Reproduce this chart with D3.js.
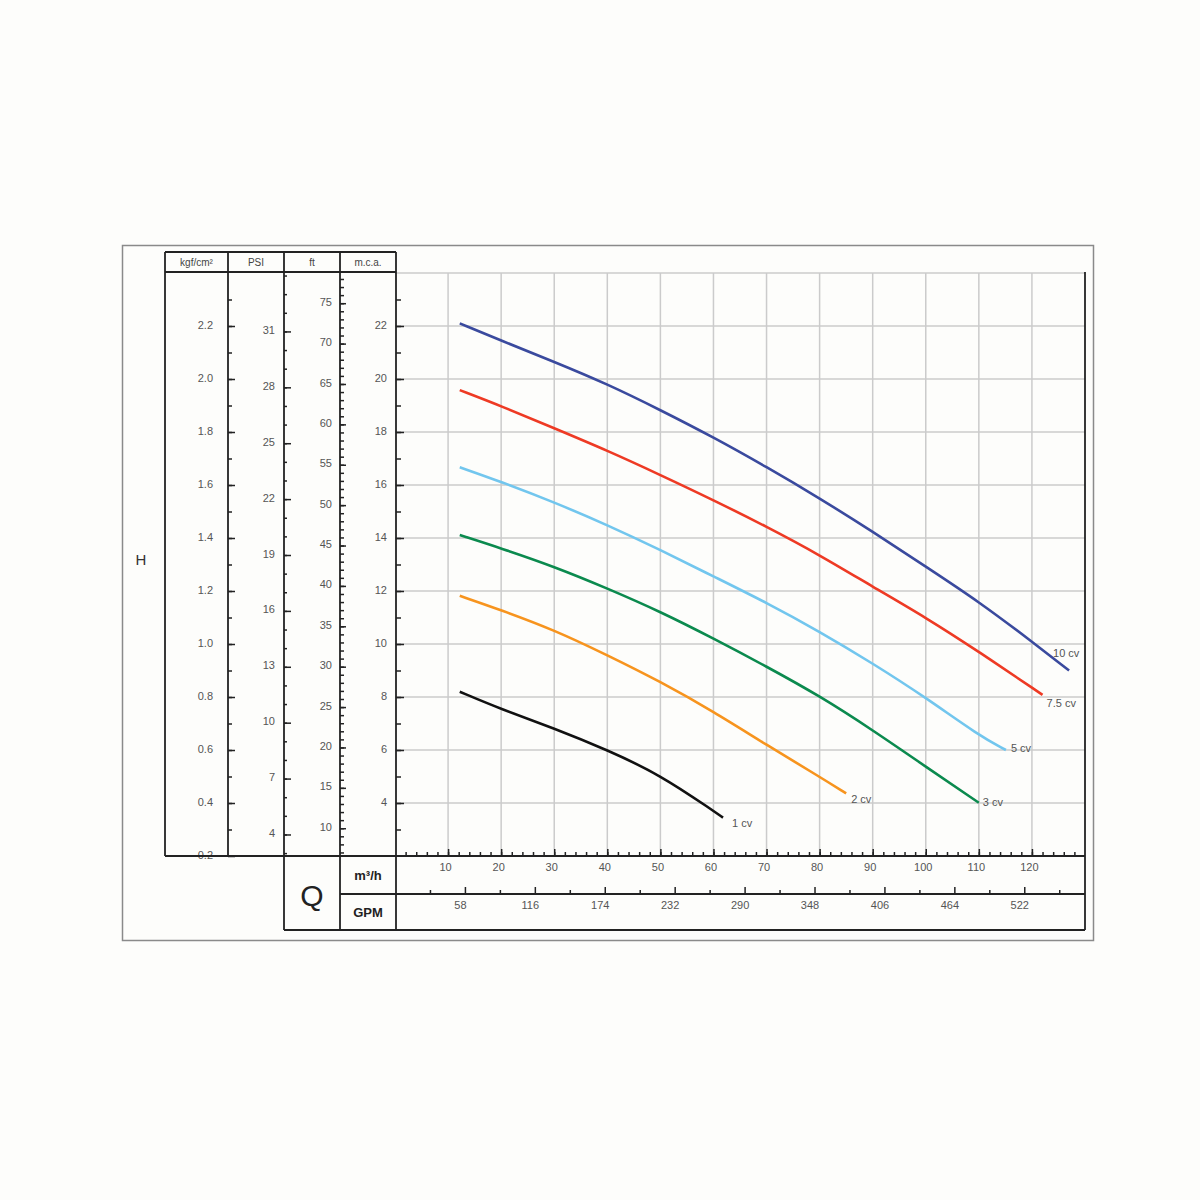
<!DOCTYPE html>
<html>
<head>
<meta charset="utf-8">
<script src="https://cdn.jsdelivr.net/npm/d3@7"></script>
<style>
  body { margin: 0; background: #fdfdfb; }
  text { font-family: "Liberation Sans", Arial, sans-serif; }
</style>
</head>
<body>
<div id="wrapper"></div>
<script>
// 1. Data (flow in m³/h, head in m.c.a.)
const seriesNames = ["10 cv", "7.5 cv", "5 cv", "3 cv", "2 cv", "1 cv"]
const seriesColors = ["#3a4a9e", "#ee3a24", "#72c6ee", "#0b8a4e", "#f7941e", "#111111"]

const flow10 = [12.2, 20, 30, 40, 50, 60, 70, 80, 90, 100, 110, 120, 127]
const head10 = [22.1, 21.45, 20.65, 19.81, 18.83, 17.8, 16.68, 15.5, 14.24, 12.92, 11.6, 10.09, 9.0]
const flow75 = [12.2, 20, 30, 40, 50, 60, 70, 80, 90, 100, 110, 122]
const head75 = [19.58, 18.98, 18.14, 17.3, 16.38, 15.43, 14.43, 13.36, 12.16, 11.0, 9.71, 8.08]
const flow5 = [12.2, 20, 30, 40, 50, 60, 70, 80, 90, 100, 110, 115.1]
const head5 = [16.67, 16.12, 15.35, 14.49, 13.55, 12.55, 11.56, 10.47, 9.27, 7.98, 6.55, 6.0]
const flow3 = [12.2, 20, 30, 40, 50, 60, 70, 80, 90, 100, 110]
const head3 = [14.11, 13.61, 12.92, 12.1, 11.22, 10.21, 9.15, 8.04, 6.75, 5.37, 4.01]
const flow2 = [12.2, 20, 30, 40, 50, 60, 70, 80, 85]
const head2 = [11.82, 11.28, 10.53, 9.58, 8.58, 7.45, 6.19, 4.99, 4.36]
const flow1 = [12.2, 20, 30, 40, 50, 60, 61.8]
const head1 = [8.2, 7.54, 6.82, 6.0, 5.06, 3.7, 3.45]

const flows = [flow10, flow75, flow5, flow3, flow2, flow1]
const heads = [head10, head75, head5, head3, head2, head1]

// tick labels
const mcaLabels = [4, 6, 8, 10, 12, 14, 16, 18, 20, 22]
const kgfLabels = [0.2, 0.4, 0.6, 0.8, 1.0, 1.2, 1.4, 1.6, 1.8, 2.0, 2.2]
const psiLabels = [4, 7, 10, 13, 16, 19, 22, 25, 28, 31]
const ftLabels = [10, 15, 20, 25, 30, 35, 40, 45, 50, 55, 60, 65, 70, 75]
const flowLabels = [10, 20, 30, 40, 50, 60, 70, 80, 90, 100, 110, 120]
const gpmLabels = [58, 116, 174, 232, 290, 348, 406, 464, 522]
const headerLabels = ["kgf/cm²", "PSI", "ft", "m.c.a."]

// 2. Dimensions
const colX = [165, 228, 284, 340, 396]
const plot = { left: 395, right: 1085, top: 273, bottom: 856 }
const gpmRow = 894
const boxBottom = 930
const headerTop = 252

// 3. Canvas
const svg = d3.select("#wrapper")
  .append("svg")
  .attr("width", 1200)
  .attr("height", 1200)

svg.append("rect")
  .attr("x", 122.5).attr("y", 245.5)
  .attr("width", 971).attr("height", 695)
  .attr("fill", "none")
  .attr("stroke", "#8a8a8a")
  .attr("stroke-width", 1.5)

// 4. Scales
const xScale = d3.scaleLinear().domain([0, 130]).range([plot.left, plot.right])
const gpmScale = d3.scaleLinear().domain([0, 130 * 4.4029]).range([plot.left, plot.right])
const yScale = d3.scaleLinear().domain([2, 24]).range([plot.bottom, plot.top])
const kgfScale = d3.scaleLinear().domain([0.2, 2.4]).range([plot.bottom, plot.top])
const psiScale = d3.scaleLinear().domain([2 / 0.70307, 24 / 0.70307]).range([plot.bottom, plot.top])
const ftScale = d3.scaleLinear().domain([2 / 0.3048, 24 / 0.3048]).range([plot.bottom, plot.top])

// 5. Grid
const grid = svg.append("g")
  .attr("stroke", "#cbcbcb")
  .attr("stroke-width", 1.5)

grid.selectAll("line.v")
  .data(d3.range(10, 130, 10))
  .join("line")
    .attr("class", "v")
    .attr("x1", d => xScale(d)).attr("x2", d => xScale(d))
    .attr("y1", plot.top).attr("y2", plot.bottom)

grid.selectAll("line.h")
  .data(d3.range(4, 25, 2))
  .join("line")
    .attr("class", "h")
    .attr("x1", plot.left).attr("x2", plot.right)
    .attr("y1", d => yScale(d)).attr("y2", d => yScale(d))

// 6. Curves
const lineGenerator = d3.line()
  .x(d => xScale(d[0]))
  .y(d => yScale(d[1]))
  .curve(d3.curveBasis)

const curves = seriesNames.map((name, i) => ({
  name,
  color: seriesColors[i],
  points: flows[i].map((q, j) => [q, heads[i][j]])
}))

svg.append("g")
  .selectAll("path")
  .data(curves)
  .join("path")
    .attr("d", d => lineGenerator(d.points))
    .attr("fill", "none")
    .attr("stroke", d => d.color)
    .attr("stroke-width", 2.6)

// label offsets from curve end, px
const labelOffsets = {
  "10 cv": [-16, -17], "7.5 cv": [4, 8], "5 cv": [5, -2],
  "3 cv": [4, -1], "2 cv": [5, 6], "1 cv": [9, 6]
}

svg.append("g")
  .selectAll("text")
  .data(curves)
  .join("text")
    .attr("x", d => xScale(d.points[d.points.length - 1][0]) + labelOffsets[d.name][0])
    .attr("y", d => yScale(d.points[d.points.length - 1][1]) + labelOffsets[d.name][1])
    .attr("dy", "0.35em")
    .attr("fill", "#555")
    .style("font-size", "11px")
    .text(d => d.name)

// 7. Axes
function styleAxis(g) {
  g.select(".domain").remove()
  g.selectAll(".tick line").attr("stroke", "#222").attr("stroke-width", 1.5)
  g.selectAll(".tick text").attr("fill", "#555").style("font-size", "11px")
    .style("font-family", "'Liberation Sans', Arial, sans-serif")
}

function leftAxis(x, scale, minor, major, majorLen, minorLen, pad, fmt) {
  svg.append("g")
    .attr("transform", `translate(${x},0)`)
    .call(d3.axisLeft(scale).tickValues(minor).tickSize(-minorLen).tickSizeOuter(0).tickFormat(""))
    .call(styleAxis)
  svg.append("g")
    .attr("transform", `translate(${x},0)`)
    .call(d3.axisLeft(scale).tickValues(major).tickSize(-majorLen).tickSizeOuter(0)
      .tickPadding(pad).tickFormat(fmt))
    .call(styleAxis)
    .call(g => g.selectAll(".tick text").attr("y", -1.5))
}

leftAxis(colX[1], kgfScale, d3.range(3, 24).map(d => d / 10), kgfLabels, 7, 4, 15, d3.format(".1f"))
leftAxis(colX[2], psiScale, d3.range(3, 35), psiLabels, 7, 3, 9, d3.format("d"))
leftAxis(colX[3], ftScale, d3.range(7, 79), ftLabels, 6, 4, 8, d3.format("d"))
leftAxis(colX[4], yScale, d3.range(3, 24), mcaLabels, 8, 5, 9, d3.format("d"))

function bottomAxis(y, scale, minor, major, majorLen, minorLen, shift) {
  svg.append("g")
    .attr("transform", `translate(0,${y})`)
    .call(d3.axisBottom(scale).tickValues(minor).tickSize(-minorLen).tickSizeOuter(0).tickFormat(""))
    .call(styleAxis)
  svg.append("g")
    .attr("transform", `translate(0,${y})`)
    .call(d3.axisBottom(scale).tickValues(major).tickSize(-majorLen).tickSizeOuter(0)
      .tickPadding(7).tickFormat(d3.format("d")))
    .call(styleAxis)
    .call(g => g.selectAll(".tick text").attr("x", shift))
}

bottomAxis(plot.bottom, xScale, d3.range(2, 130, 2), flowLabels, 7, 4, -3)
bottomAxis(gpmRow, gpmScale, d3.range(29, 560, 58), gpmLabels, 7, 4, -5)

// 8. Frame lines
const frame = svg.append("g")
  .attr("stroke", "#222")
  .attr("stroke-width", 1.8)

const frameLines = [
  [colX[0], headerTop, colX[4], headerTop],
  [colX[0], plot.top - 1, colX[4], plot.top - 1],
  [colX[0], headerTop, colX[0], plot.bottom],
  [colX[1], headerTop, colX[1], plot.bottom],
  [colX[2], headerTop, colX[2], boxBottom],
  [colX[3], headerTop, colX[3], boxBottom],
  [colX[4], headerTop, colX[4], boxBottom],
  [plot.right, plot.top - 1, plot.right, boxBottom],
  [colX[0], plot.bottom, plot.right, plot.bottom],
  [colX[3], gpmRow, plot.right, gpmRow],
  [colX[2], boxBottom, plot.right, boxBottom]
]

frame.selectAll("line")
  .data(frameLines)
  .join("line")
    .attr("x1", d => d[0]).attr("y1", d => d[1])
    .attr("x2", d => d[2]).attr("y2", d => d[3])

// 9. Header and captions
svg.append("g")
  .selectAll("text")
  .data(headerLabels)
  .join("text")
    .attr("x", (d, i) => (colX[i] + colX[i + 1]) / 2)
    .attr("y", (headerTop + plot.top) / 2)
    .attr("dy", "0.35em")
    .attr("text-anchor", "middle")
    .attr("fill", "#444")
    .style("font-size", "10px")
    .text(d => d)

svg.append("text")
  .attr("x", 141).attr("y", 560)
  .attr("dy", "0.35em")
  .attr("text-anchor", "middle")
  .attr("fill", "#333")
  .style("font-size", "15px")
  .text("H")

svg.append("text")
  .attr("x", (colX[2] + colX[3]) / 2).attr("y", (plot.bottom + boxBottom) / 2 + 2)
  .attr("dy", "0.35em")
  .attr("text-anchor", "middle")
  .attr("fill", "#222")
  .style("font-size", "30px")
  .text("Q")

svg.append("text")
  .attr("x", (colX[3] + colX[4]) / 2).attr("y", (plot.bottom + gpmRow) / 2)
  .attr("dy", "0.35em")
  .attr("text-anchor", "middle")
  .attr("fill", "#222")
  .style("font-size", "13px")
  .style("font-weight", "bold")
  .text("m³/h")

svg.append("text")
  .attr("x", (colX[3] + colX[4]) / 2).attr("y", (gpmRow + boxBottom) / 2)
  .attr("dy", "0.35em")
  .attr("text-anchor", "middle")
  .attr("fill", "#222")
  .style("font-size", "13px")
  .style("font-weight", "bold")
  .text("GPM")
</script>
</body>
</html>
